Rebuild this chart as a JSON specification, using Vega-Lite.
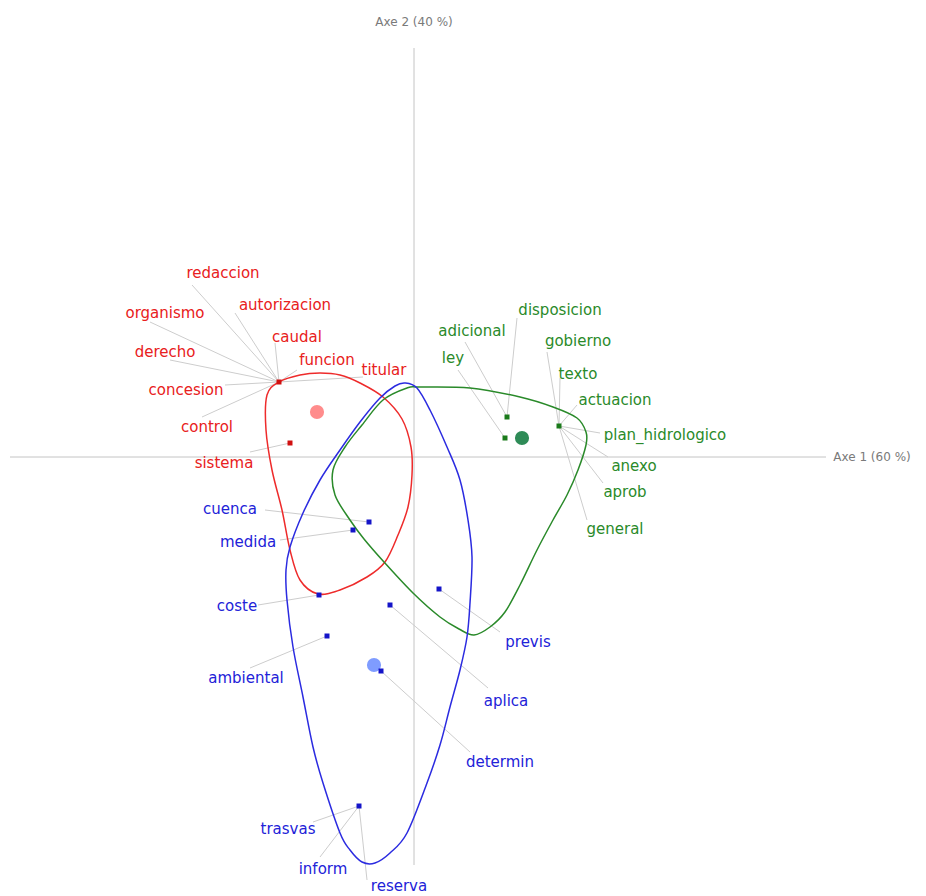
{
  "$schema": "https://vega.github.io/schema/vega-lite/v6.json",
  "width": 926,
  "height": 896,
  "autosize": {"type": "fit", "contains": "padding"},
  "padding": 0,
  "background": "white",
  "config": {"view": {"stroke": null}, "text": {"font": "DejaVu Sans"}},
  "datasets": {
    "axes": [
      {"x": -4.04, "y": 0, "x2": 4.12, "y2": 0},
      {"x": 0, "y": 4.09, "x2": 0, "y2": -4.08}
    ],
    "titles": [
      {"x": 0, "y": 4.35, "t": "Axe 2 (40 %)"},
      {"x": 4.58, "y": 0, "t": "Axe 1 (60 %)"}
    ],
    "links": [
      {"lx": -2.22, "ly": 1.72, "px": -1.35, "py": 0.75},
      {"lx": -1.79, "ly": 1.44, "px": -1.35, "py": 0.75},
      {"lx": -2.64, "ly": 1.35, "px": -1.35, "py": 0.75},
      {"lx": -1.39, "ly": 1.14, "px": -1.35, "py": 0.75},
      {"lx": -2.44, "ly": 0.97, "px": -1.35, "py": 0.75},
      {"lx": -1.17, "ly": 0.87, "px": -1.35, "py": 0.75},
      {"lx": -0.51, "ly": 0.80, "px": -1.35, "py": 0.75},
      {"lx": -1.89, "ly": 0.72, "px": -1.35, "py": 0.75},
      {"lx": -2.12, "ly": 0.40, "px": -1.35, "py": 0.75},
      {"lx": -1.64, "ly": 0.05, "px": -1.24, "py": 0.14},
      {"lx": 1.03, "ly": 1.39, "px": 0.93, "py": 0.40},
      {"lx": 0.51, "ly": 1.15, "px": 0.93, "py": 0.40},
      {"lx": 1.33, "ly": 1.05, "px": 1.45, "py": 0.31},
      {"lx": 0.44, "ly": 0.87, "px": 0.91, "py": 0.19},
      {"lx": 1.46, "ly": 0.79, "px": 1.45, "py": 0.31},
      {"lx": 1.63, "ly": 0.52, "px": 1.45, "py": 0.31},
      {"lx": 1.86, "ly": 0.24, "px": 1.45, "py": 0.31},
      {"lx": 1.94, "ly": 0.00, "px": 1.45, "py": 0.31},
      {"lx": 1.89, "ly": -0.26, "px": 1.45, "py": 0.31},
      {"lx": 1.73, "ly": -0.63, "px": 1.45, "py": 0.31},
      {"lx": -1.49, "ly": -0.53, "px": -0.45, "py": -0.65},
      {"lx": -1.34, "ly": -0.83, "px": -0.61, "py": -0.73},
      {"lx": -1.56, "ly": -1.48, "px": -0.95, "py": -1.38},
      {"lx": -1.64, "ly": -2.11, "px": -0.87, "py": -1.79},
      {"lx": 0.86, "ly": -1.75, "px": 0.25, "py": -1.32},
      {"lx": 0.74, "ly": -2.31, "px": -0.24, "py": -1.48},
      {"lx": 0.56, "ly": -2.95, "px": -0.33, "py": -2.14},
      {"lx": -1.01, "ly": -3.65, "px": -0.55, "py": -3.49},
      {"lx": -0.94, "ly": -4.00, "px": -0.55, "py": -3.49},
      {"lx": -0.47, "ly": -4.23, "px": -0.55, "py": -3.49}
    ],
    "hulls": [
      {"c": "1", "i": 1, "x": -1.35, "y": 0.75},
      {"c": "1", "i": 2, "x": -1.14, "y": 0.82},
      {"c": "1", "i": 3, "x": -0.94, "y": 0.84},
      {"c": "1", "i": 4, "x": -0.74, "y": 0.82},
      {"c": "1", "i": 5, "x": -0.54, "y": 0.74},
      {"c": "1", "i": 6, "x": -0.31, "y": 0.60},
      {"c": "1", "i": 7, "x": -0.12, "y": 0.38},
      {"c": "1", "i": 8, "x": -0.03, "y": 0.10},
      {"c": "1", "i": 9, "x": -0.02, "y": -0.18},
      {"c": "1", "i": 10, "x": -0.06, "y": -0.50},
      {"c": "1", "i": 11, "x": -0.16, "y": -0.78},
      {"c": "1", "i": 12, "x": -0.29, "y": -1.05},
      {"c": "1", "i": 13, "x": -0.47, "y": -1.20},
      {"c": "1", "i": 14, "x": -0.74, "y": -1.33},
      {"c": "1", "i": 15, "x": -0.96, "y": -1.37},
      {"c": "1", "i": 16, "x": -1.14, "y": -1.23},
      {"c": "1", "i": 17, "x": -1.24, "y": -0.93},
      {"c": "1", "i": 18, "x": -1.32, "y": -0.53},
      {"c": "1", "i": 19, "x": -1.42, "y": -0.13},
      {"c": "1", "i": 20, "x": -1.48, "y": 0.27},
      {"c": "1", "i": 21, "x": -1.47, "y": 0.62},
      {"c": "2", "i": 1, "x": -0.31, "y": 0.57},
      {"c": "2", "i": 2, "x": -0.07, "y": 0.69},
      {"c": "2", "i": 3, "x": 0.06, "y": 0.70},
      {"c": "2", "i": 4, "x": 0.56, "y": 0.69},
      {"c": "2", "i": 5, "x": 1.06, "y": 0.60},
      {"c": "2", "i": 6, "x": 1.39, "y": 0.50},
      {"c": "2", "i": 7, "x": 1.63, "y": 0.39},
      {"c": "2", "i": 8, "x": 1.72, "y": 0.25},
      {"c": "2", "i": 9, "x": 1.72, "y": 0.12},
      {"c": "2", "i": 10, "x": 1.64, "y": -0.13},
      {"c": "2", "i": 11, "x": 1.53, "y": -0.38},
      {"c": "2", "i": 12, "x": 1.39, "y": -0.63},
      {"c": "2", "i": 13, "x": 1.23, "y": -0.93},
      {"c": "2", "i": 14, "x": 1.06, "y": -1.28},
      {"c": "2", "i": 15, "x": 0.91, "y": -1.55},
      {"c": "2", "i": 16, "x": 0.76, "y": -1.70},
      {"c": "2", "i": 17, "x": 0.60, "y": -1.78},
      {"c": "2", "i": 18, "x": 0.45, "y": -1.72},
      {"c": "2", "i": 19, "x": 0.26, "y": -1.60},
      {"c": "2", "i": 20, "x": -0.01, "y": -1.36},
      {"c": "2", "i": 21, "x": -0.30, "y": -1.05},
      {"c": "2", "i": 22, "x": -0.50, "y": -0.82},
      {"c": "2", "i": 23, "x": -0.64, "y": -0.63},
      {"c": "2", "i": 24, "x": -0.79, "y": -0.38},
      {"c": "2", "i": 25, "x": -0.81, "y": -0.13},
      {"c": "2", "i": 26, "x": -0.69, "y": 0.10},
      {"c": "2", "i": 27, "x": -0.52, "y": 0.32},
      {"c": "3", "i": 1, "x": -0.19, "y": 0.71},
      {"c": "3", "i": 2, "x": -0.09, "y": 0.74},
      {"c": "3", "i": 3, "x": 0.03, "y": 0.69},
      {"c": "3", "i": 4, "x": 0.16, "y": 0.47},
      {"c": "3", "i": 5, "x": 0.33, "y": 0.10},
      {"c": "3", "i": 6, "x": 0.46, "y": -0.23},
      {"c": "3", "i": 7, "x": 0.54, "y": -0.63},
      {"c": "3", "i": 8, "x": 0.58, "y": -1.00},
      {"c": "3", "i": 9, "x": 0.56, "y": -1.46},
      {"c": "3", "i": 10, "x": 0.53, "y": -1.80},
      {"c": "3", "i": 11, "x": 0.46, "y": -2.13},
      {"c": "3", "i": 12, "x": 0.36, "y": -2.50},
      {"c": "3", "i": 13, "x": 0.26, "y": -2.88},
      {"c": "3", "i": 14, "x": 0.13, "y": -3.26},
      {"c": "3", "i": 15, "x": -0.07, "y": -3.76},
      {"c": "3", "i": 16, "x": -0.24, "y": -3.96},
      {"c": "3", "i": 17, "x": -0.39, "y": -4.06},
      {"c": "3", "i": 18, "x": -0.52, "y": -4.05},
      {"c": "3", "i": 19, "x": -0.64, "y": -3.93},
      {"c": "3", "i": 20, "x": -0.74, "y": -3.76},
      {"c": "3", "i": 21, "x": -0.91, "y": -3.26},
      {"c": "3", "i": 22, "x": -1.01, "y": -2.90},
      {"c": "3", "i": 23, "x": -1.11, "y": -2.40},
      {"c": "3", "i": 24, "x": -1.21, "y": -1.90},
      {"c": "3", "i": 25, "x": -1.27, "y": -1.43},
      {"c": "3", "i": 26, "x": -1.28, "y": -1.13},
      {"c": "3", "i": 27, "x": -1.24, "y": -0.90},
      {"c": "3", "i": 28, "x": -1.11, "y": -0.56},
      {"c": "3", "i": 29, "x": -0.94, "y": -0.23},
      {"c": "3", "i": 30, "x": -0.74, "y": 0.07},
      {"c": "3", "i": 31, "x": -0.54, "y": 0.35},
      {"c": "3", "i": 32, "x": -0.34, "y": 0.59}
    ],
    "points": [
      {"c": "1", "x": -1.35, "y": 0.75},
      {"c": "1", "x": -1.24, "y": 0.14},
      {"c": "2", "x": 0.93, "y": 0.40},
      {"c": "2", "x": 0.91, "y": 0.19},
      {"c": "2", "x": 1.45, "y": 0.31},
      {"c": "3", "x": -0.45, "y": -0.65},
      {"c": "3", "x": -0.61, "y": -0.73},
      {"c": "3", "x": -0.95, "y": -1.38},
      {"c": "3", "x": -0.87, "y": -1.79},
      {"c": "3", "x": 0.25, "y": -1.32},
      {"c": "3", "x": -0.24, "y": -1.48},
      {"c": "3", "x": -0.33, "y": -2.14},
      {"c": "3", "x": -0.55, "y": -3.49}
    ],
    "cents": [
      {"c": "1", "x": -0.97, "y": 0.45},
      {"c": "2", "x": 1.08, "y": 0.19},
      {"c": "3", "x": -0.40, "y": -2.08}
    ],
    "labels": [
      {"c": "1", "t": "redaccion", "x": -1.91, "y": 1.84},
      {"c": "1", "t": "autorizacion", "x": -1.29, "y": 1.52},
      {"c": "1", "t": "organismo", "x": -2.49, "y": 1.44},
      {"c": "1", "t": "caudal", "x": -1.17, "y": 1.20},
      {"c": "1", "t": "derecho", "x": -2.49, "y": 1.05},
      {"c": "1", "t": "funcion", "x": -0.87, "y": 0.97},
      {"c": "1", "t": "titular", "x": -0.30, "y": 0.87},
      {"c": "1", "t": "concesion", "x": -2.28, "y": 0.67},
      {"c": "1", "t": "control", "x": -2.07, "y": 0.30},
      {"c": "1", "t": "sistema", "x": -1.90, "y": -0.06},
      {"c": "2", "t": "disposicion", "x": 1.46, "y": 1.47},
      {"c": "2", "t": "adicional", "x": 0.58, "y": 1.26},
      {"c": "2", "t": "gobierno", "x": 1.64, "y": 1.16},
      {"c": "2", "t": "ley", "x": 0.39, "y": 0.99},
      {"c": "2", "t": "texto", "x": 1.64, "y": 0.83},
      {"c": "2", "t": "actuacion", "x": 2.01, "y": 0.57},
      {"c": "2", "t": "plan_hidrologico", "x": 2.51, "y": 0.22},
      {"c": "2", "t": "anexo", "x": 2.20, "y": -0.09},
      {"c": "2", "t": "aprob", "x": 2.11, "y": -0.35},
      {"c": "2", "t": "general", "x": 2.01, "y": -0.72},
      {"c": "3", "t": "cuenca", "x": -1.84, "y": -0.52},
      {"c": "3", "t": "medida", "x": -1.66, "y": -0.85},
      {"c": "3", "t": "coste", "x": -1.77, "y": -1.49},
      {"c": "3", "t": "ambiental", "x": -1.68, "y": -2.21},
      {"c": "3", "t": "previs", "x": 1.14, "y": -1.85},
      {"c": "3", "t": "aplica", "x": 0.92, "y": -2.44},
      {"c": "3", "t": "determin", "x": 0.86, "y": -3.05},
      {"c": "3", "t": "trasvas", "x": -1.26, "y": -3.72},
      {"c": "3", "t": "inform", "x": -0.91, "y": -4.12},
      {"c": "3", "t": "reserva", "x": -0.15, "y": -4.29}
    ]
  },
  "resolve": {"scale": {"color": "independent"}},
  "layer": [
    {
      "data": {"name": "axes"},
      "mark": {"type": "rule", "color": "#c4c4c4", "strokeWidth": 1},
      "encoding": {
        "x": {"field": "x", "type": "quantitative", "scale": {"domain": [-4.14, 5.12], "nice": false, "zero": false}, "axis": null},
        "y": {"field": "y", "type": "quantitative", "scale": {"domain": [-4.39, 4.57], "nice": false, "zero": false}, "axis": null},
        "x2": {"field": "x2"},
        "y2": {"field": "y2"}
      }
    },
    {
      "data": {"name": "titles"},
      "mark": {"type": "text", "fontSize": 12, "color": "#7a7a7a", "align": "center", "baseline": "middle"},
      "encoding": {
        "x": {"field": "x", "type": "quantitative"},
        "y": {"field": "y", "type": "quantitative"},
        "text": {"field": "t"}
      }
    },
    {
      "data": {"name": "links"},
      "mark": {"type": "rule", "color": "#cdcdcd", "strokeWidth": 1},
      "encoding": {
        "x": {"field": "lx", "type": "quantitative"},
        "y": {"field": "ly", "type": "quantitative"},
        "x2": {"field": "px"},
        "y2": {"field": "py"}
      }
    },
    {
      "data": {"name": "hulls"},
      "mark": {"type": "line", "interpolate": "cardinal-closed", "strokeWidth": 1.5},
      "encoding": {
        "x": {"field": "x", "type": "quantitative"},
        "y": {"field": "y", "type": "quantitative"},
        "order": {"field": "i", "type": "quantitative"},
        "detail": {"field": "c"},
        "color": {"field": "c", "type": "nominal", "scale": {"domain": ["1", "2", "3"], "range": ["#ee2b2b", "#2a8a2a", "#2b2be0"]}, "legend": null}
      }
    },
    {
      "data": {"name": "cents"},
      "mark": {"type": "circle", "size": 200, "opacity": 1},
      "encoding": {
        "x": {"field": "x", "type": "quantitative"},
        "y": {"field": "y", "type": "quantitative"},
        "color": {"field": "c", "type": "nominal", "scale": {"domain": ["1", "2", "3"], "range": ["#ff8c8c", "#2e8b57", "#7f9cff"]}, "legend": null}
      }
    },
    {
      "data": {"name": "points"},
      "mark": {"type": "square", "size": 25, "opacity": 1},
      "encoding": {
        "x": {"field": "x", "type": "quantitative"},
        "y": {"field": "y", "type": "quantitative"},
        "color": {"field": "c", "type": "nominal", "scale": {"domain": ["1", "2", "3"], "range": ["#d01010", "#1a7a1a", "#1414c8"]}, "legend": null}
      }
    },
    {
      "data": {"name": "labels"},
      "mark": {"type": "text", "fontSize": 15, "align": "center", "baseline": "middle"},
      "encoding": {
        "x": {"field": "x", "type": "quantitative"},
        "y": {"field": "y", "type": "quantitative"},
        "text": {"field": "t"},
        "color": {"field": "c", "type": "nominal", "scale": {"domain": ["1", "2", "3"], "range": ["#e82020", "#2a8a2a", "#2222d8"]}, "legend": null}
      }
    }
  ]
}
